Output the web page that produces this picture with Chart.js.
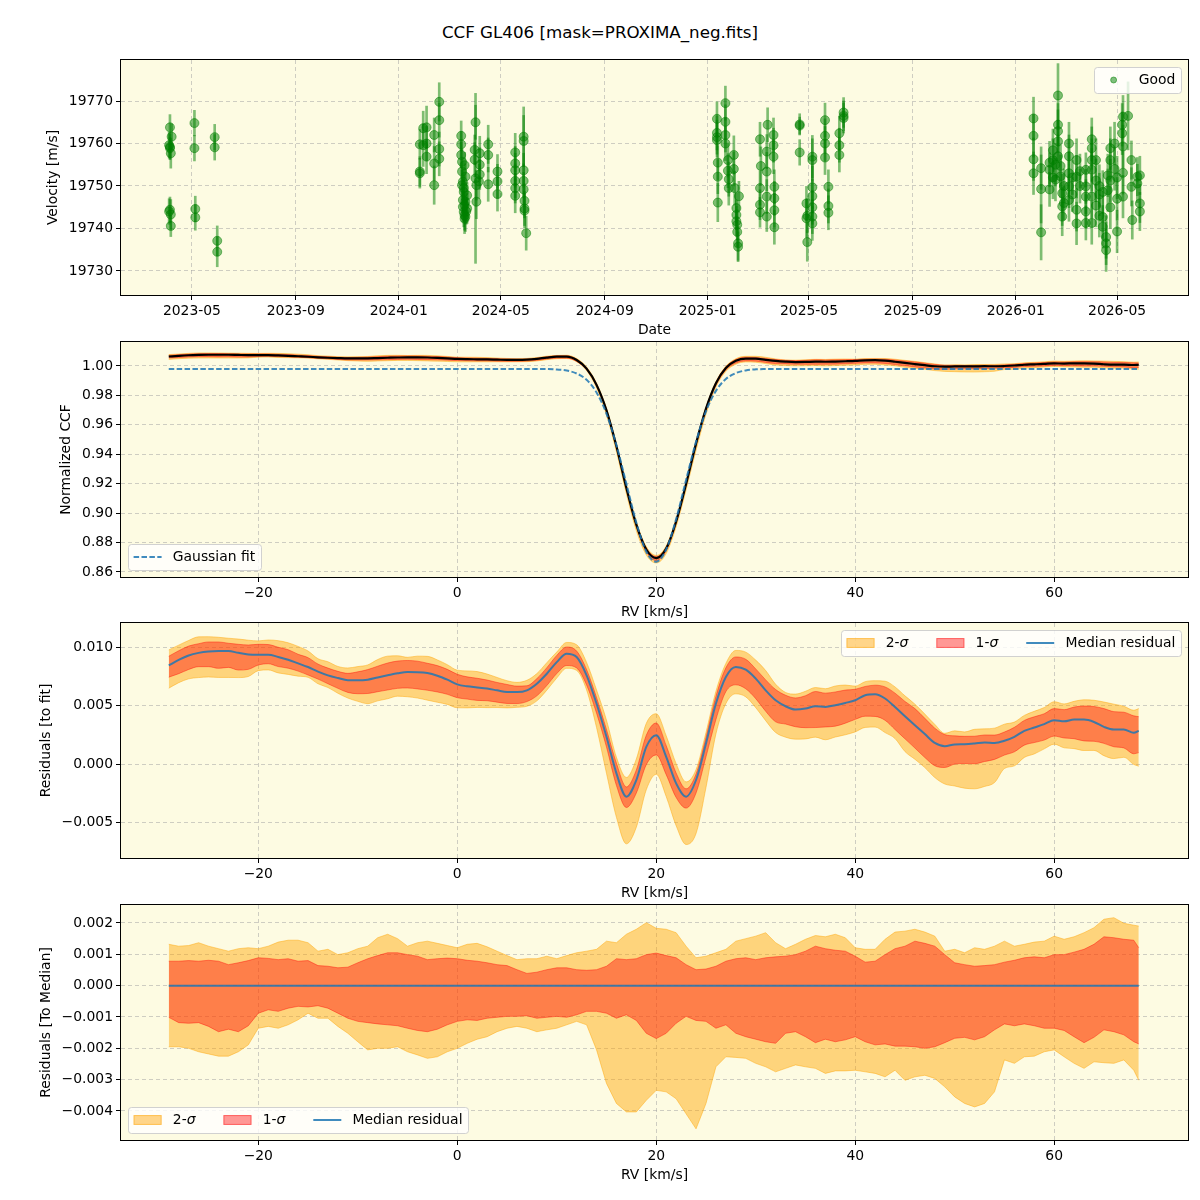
<!DOCTYPE html>
<html><head><meta charset="utf-8">
<script src="https://cdn.jsdelivr.net/npm/chart.js@4.4.1/dist/chart.umd.min.js"></script>
<style>
html,body{margin:0;padding:0;background:#fff;}
body{width:1200px;height:1200px;position:relative;overflow:hidden;}
canvas{position:absolute;left:0;}
#title{position:absolute;top:21px;left:0;width:1200px;text-align:center;font-family:"DejaVu Sans";font-size:16.7px;line-height:22px;color:#000;}
</style></head><body>
<div id="title">CCF GL406 [mask=PROXIMA_neg.fits]</div>
<canvas id="c1" width="1200" height="300" style="top:40px"></canvas>
<canvas id="c2" width="1200" height="300" style="top:322px"></canvas>
<canvas id="c3" width="1200" height="300" style="top:603px"></canvas>
<canvas id="c4" width="1200" height="300" style="top:885px"></canvas>
<script>
// ---------------- DATA ----------------
// Radial-velocity time series: [date, velocity m/s, error m/s]
const obs2023 = [
 ['2023-04-05',19763.8,3],['2023-04-07',19761.6,3],['2023-04-04',19759.6,3],['2023-04-05',19759.2,3],
 ['2023-04-05',19758.9,2.5],['2023-04-06',19757.7,3.5],['2023-04-04',19744.0,3],['2023-04-05',19744.4,3],
 ['2023-04-06',19743.3,3.5],['2023-04-06',19740.6,2.5],['2023-05-04',19764.8,3],['2023-05-04',19758.9,3],
 ['2023-05-05',19744.6,3],['2023-05-05',19742.6,3],['2023-05-28',19761.5,3],['2023-05-28',19759.1,3],
 ['2023-05-31',19737.1,3.5],['2023-05-31',19734.5,3.5]
];
const obs2024 = [
 ['2024-01-26',19753.4,3.5],['2024-01-26',19753.0,3.5],['2024-01-26',19759.8,3.5],['2024-01-30',19763.6,4],
 ['2024-01-30',19759.6,5],['2024-02-03',19763.8,5],['2024-02-03',19756.9,4],['2024-02-03',19760.0,4],
 ['2024-02-12',19762.0,4],['2024-02-12',19755.3,4],['2024-02-12',19750.2,4.5],['2024-02-18',19769.8,4.5],
 ['2024-02-18',19765.5,4],['2024-02-18',19758.7,4],['2024-02-18',19756.4,4],['2024-03-15',19761.8,3.5],
 ['2024-03-15',19759.8,3],['2024-03-15',19757.3,3],['2024-03-16',19755.7,3],['2024-03-16',19753.4,3],
 ['2024-03-16',19750.2,3.5],['2024-03-17',19746.7,3],['2024-03-17',19745.1,3.5],['2024-03-17',19751.0,3],
 ['2024-03-18',19743.9,3.5],['2024-03-18',19748.6,3],['2024-03-18',19749.5,3],['2024-03-19',19743.1,3.5],
 ['2024-03-19',19754.9,3],['2024-03-19',19742.3,3.5],['2024-03-19',19745.5,3],['2024-03-20',19752.2,3],
 ['2024-03-20',19746.3,3],['2024-03-20',19742.8,3.5],['2024-03-21',19744.0,3],['2024-03-22',19747.8,3],
 ['2024-03-22',19744.7,3.5],['2024-03-31',19758.5,3.5],['2024-03-31',19756.2,4],['2024-04-01',19765.0,4],
 ['2024-04-01',19751.8,20],['2024-04-02',19750.2,3.5],['2024-04-02',19746.3,4],['2024-04-05',19751.1,4],
 ['2024-04-06',19757.7,4],['2024-04-06',19755.0,4],['2024-04-06',19752.7,3.5],['2024-04-16',19759.8,4.5],
 ['2024-04-16',19757.3,4],['2024-04-16',19750.4,4],['2024-04-27',19753.4,4],['2024-04-27',19751.1,4],
 ['2024-04-27',19748.1,4],['2024-05-18',19757.9,4.5],['2024-05-18',19755.3,4],['2024-05-18',19753.7,4],
 ['2024-05-18',19751.2,4],['2024-05-18',19749.5,3.5],['2024-05-18',19747.7,4],['2024-05-28',19761.6,7],
 ['2024-05-28',19760.6,6],['2024-05-28',19753.7,4],['2024-05-28',19751.2,4],['2024-05-28',19749.2,4],
 ['2024-05-29',19746.5,4],['2024-05-29',19744.2,4],['2024-05-29',19744.7,4],['2024-05-31',19738.9,4]
];
const obs2025 = [
 ['2025-01-12',19765.8,4],['2025-01-12',19762.5,4],['2025-01-12',19760.8,4],['2025-01-12',19761.5,4],
 ['2025-01-13',19755.5,4],['2025-01-13',19752.2,4],['2025-01-13',19746.1,4.5],['2025-01-22',19769.5,4],
 ['2025-01-22',19765.1,4],['2025-01-22',19762.0,4],['2025-01-22',19760.0,4],['2025-01-25',19756.1,4],
 ['2025-01-25',19753.6,4],['2025-01-26',19751.6,4],['2025-01-26',19749.5,4],['2025-02-01',19757.3,4.5],
 ['2025-02-01',19754.0,4],['2025-02-02',19749.5,4],['2025-02-04',19744.8,3.5],['2025-02-04',19743.2,3.5],
 ['2025-02-04',19741.7,3.5],['2025-02-05',19740.9,3.5],['2025-02-05',19739.2,3.5],['2025-02-06',19736.5,4],
 ['2025-02-06',19735.7,3.5],['2025-02-07',19747.6,3.5],['2025-03-04',19761.0,4],['2025-03-04',19749.5,4],
 ['2025-03-04',19745.6,3.5],['2025-03-04',19743.8,3.5],['2025-03-05',19754.7,4.5],['2025-03-12',19758.1,4],
 ['2025-03-12',19753.4,4.5],['2025-03-12',19747.5,4],['2025-03-12',19742.8,3.5],['2025-03-13',19764.4,4],
 ['2025-03-20',19762.0,4],['2025-03-20',19759.6,4],['2025-03-20',19756.9,4],['2025-03-21',19749.8,4],
 ['2025-03-21',19747.1,4],['2025-03-21',19744.3,4],['2025-03-21',19740.3,4],['2025-04-20',19764.5,2.5],
 ['2025-04-20',19764.2,2],['2025-04-20',19757.9,3],['2025-04-28',19745.9,4],['2025-04-28',19742.4,4.5],
 ['2025-04-29',19736.8,4.5],['2025-04-29',19743.0,4],['2025-05-05',19756.9,5],['2025-05-05',19756.1,5],
 ['2025-05-05',19749.7,5],['2025-05-05',19747.6,4],['2025-05-05',19742.8,4],['2025-05-05',19741.2,4],
 ['2025-05-05',19745.0,4],['2025-05-20',19765.5,4],['2025-05-20',19761.8,4],['2025-05-20',19760.0,4],
 ['2025-05-20',19756.7,4],['2025-05-24',19749.8,4],['2025-05-24',19745.3,4],['2025-05-24',19743.7,4],
 ['2025-06-06',19762.4,4],['2025-06-06',19759.6,4],['2025-06-06',19757.3,4],['2025-06-11',19767.3,3.5],
 ['2025-06-11',19766.5,3.5],['2025-06-11',19766.0,3.5]
];
const obs2026 = [
 ['2026-01-22',19765.9,5],['2026-01-22',19761.8,5],['2026-01-22',19756.3,5],['2026-01-22',19753.0,5],
 ['2026-01-31',19754.2,5],['2026-01-31',19749.3,8],['2026-01-31',19739.1,6.5],['2026-02-10',19753.8,4],
 ['2026-02-10',19749.2,4],['2026-02-10',19755.5,5],['2026-02-14',19756.1,5],['2026-02-14',19758.4,5],
 ['2026-02-14',19752.0,5],['2026-02-17',19755.0,5],['2026-02-17',19751.5,5],['2026-02-20',19771.3,7.5],
 ['2026-02-20',19764.4,5],['2026-02-20',19762.9,5],['2026-02-20',19760.5,5],['2026-02-20',19757.0,5],
 ['2026-02-23',19754.7,5],['2026-02-23',19752.3,5],['2026-02-25',19748.3,4.5],['2026-02-25',19745.2,4.5],
 ['2026-02-25',19742.8,4.5],['2026-02-27',19750.0,4],['2026-02-27',19746.0,4],['2026-03-05',19760.0,5],
 ['2026-03-05',19757.0,5],['2026-03-05',19753.0,5],['2026-03-05',19749.9,5],['2026-03-05',19746.7,5],
 ['2026-03-09',19752.0,4],['2026-03-09',19748.0,4],['2026-03-14',19756.1,5],['2026-03-14',19752.2,5],
 ['2026-03-14',19744.4,5],['2026-03-14',19741.2,5],['2026-03-18',19750.0,4],['2026-03-18',19753.5,4],
 ['2026-03-25',19753.8,4],['2026-03-25',19749.9,4],['2026-03-25',19747.5,4],['2026-03-25',19744.0,4],
 ['2026-03-25',19741.3,4],['2026-04-01',19758.9,5],['2026-04-01',19761.0,5],['2026-04-01',19756.1,5],
 ['2026-04-01',19753.8,5],['2026-04-01',19747.5,5],['2026-04-01',19741.3,5],['2026-04-06',19756.1,5],
 ['2026-04-06',19751.3,5],['2026-04-06',19745.4,5],['2026-04-10',19750.0,5],['2026-04-10',19748.0,5],
 ['2026-04-10',19743.0,5],['2026-04-14',19740.4,5],['2026-04-14',19742.7,5],['2026-04-14',19748.6,5],
 ['2026-04-18',19736.5,5],['2026-04-18',19734.9,5],['2026-04-18',19738.0,5],['2026-04-20',19752.5,5],
 ['2026-04-20',19749.0,5],['2026-04-23',19758.9,5],['2026-04-23',19756.1,5],['2026-04-23',19751.3,5],
 ['2026-04-23',19745.0,5],['2026-04-28',19760.0,5],['2026-04-28',19754.0,5],['2026-05-01',19739.3,5],
 ['2026-05-01',19747.0,5],['2026-05-01',19752.0,5],['2026-05-07',19762.4,5],['2026-05-07',19764.4,5],
 ['2026-05-08',19766.3,5],['2026-05-08',19759.3,5],['2026-05-08',19753.1,5],['2026-05-08',19747.5,5],
 ['2026-05-14',19766.5,8],['2026-05-18',19749.8,4.5],['2026-05-18',19756.1,4.5],['2026-05-19',19742.0,4.5],
 ['2026-05-25',19752.2,4.5],['2026-05-25',19750.6,4.5],['2026-05-28',19745.9,4.5],['2026-05-28',19744.0,4.5],
 ['2026-05-28',19752.5,4.5]
];

// CCF grid (RV, km/s)
const rvGrid = [-29,-28,-27,-26,-25,-24,-23,-22,-21,-20,-19,-18,-17,-16,-15,-14,-13,-12,-11,-10,
 -9,-8,-7,-6,-5,-4,-3,-2,-1,0,1,2,3,4,5,6,7,8,9,10,11,12,13,14,15,16,17,18,19,20,
 21,22,23,24,25,26,27,28,29,30,31,32,33,34,35,36,37,38,39,40,41,42,43,44,45,46,47,48,49,50,
 51,52,53,54,55,56,57,58,59,60,61,62,63,64,65,66,67,68,68.5];
// Gaussian fit to the CCF
const gaussFit = [0.998,0.998,0.998,0.998,0.998,0.998,0.998,0.998,0.998,0.998,
 0.998,0.998,0.998,0.998,0.998,0.998,0.998,0.998,0.998,0.998,
 0.998,0.998,0.998,0.998,0.998,0.998,0.998,0.998,0.998,0.998,
 0.998,0.998,0.998,0.998,0.998,0.998,0.998,0.998,0.998,0.9976,
 0.9969,0.9949,0.9906,0.9820,0.9675,0.9462,0.9199,0.8935,0.8738,0.8670,
 0.8753,0.8960,0.9226,0.9486,0.9692,0.9831,0.9912,0.9952,0.9970,0.9977,
 0.9979,0.998,0.998,0.998,0.998,0.998,0.998,0.998,0.998,0.998,
 0.998,0.998,0.998,0.998,0.998,0.998,0.998,0.998,0.998,0.998,
 0.998,0.998,0.998,0.998,0.998,0.998,0.998,0.998,0.998,0.998,
 0.998,0.998,0.998,0.998,0.998,0.998,0.998,0.998,0.998];
// Median residual (CCF - fit)
const medResid = [0.00843,0.00890,0.00928,0.00950,0.00962,0.00965,0.00965,0.00950,0.00937,0.00934,
 0.00934,0.00915,0.00891,0.00860,0.00829,0.00790,0.00758,0.00735,0.00716,0.00715,
 0.00721,0.00740,0.00758,0.00775,0.00786,0.00785,0.00778,0.00755,0.00721,0.00681,
 0.00664,0.00655,0.00645,0.00630,0.00616,0.00615,0.00630,0.00687,0.00772,0.00871,
 0.00943,0.00914,0.00758,0.00517,0.00233,-0.00079,-0.00278,-0.00136,0.00147,0.00247,
 0.00062,-0.00165,-0.00278,-0.00136,0.00176,0.00517,0.00744,0.00829,0.00806,0.00730,
 0.00630,0.00545,0.00494,0.00466,0.00474,0.00494,0.00488,0.00503,0.00522,0.00545,
 0.00588,0.00596,0.00560,0.00488,0.00409,0.00332,0.00256,0.00181,0.00153,0.00168,
 0.00170,0.00176,0.00185,0.00181,0.00199,0.00233,0.00284,0.00312,0.00341,0.00375,
 0.00366,0.00380,0.00380,0.00360,0.00318,0.00295,0.00295,0.00267,0.00284];
// Band edges relative to the median residual
const sig1Up = [0.00078,0.00078,0.00080,0.00078,0.00081,0.00078,0.00067,0.00073,0.00080,0.00089,
 0.00087,0.00083,0.00086,0.00078,0.00080,0.00064,0.00062,0.00057,0.00059,0.00073,
 0.00086,0.00096,0.00105,0.00105,0.00099,0.00094,0.00083,0.00086,0.00088,0.00086,
 0.00081,0.00078,0.00073,0.00067,0.00064,0.00051,0.00039,0.00043,0.00051,0.00057,
 0.00057,0.00051,0.00049,0.00051,0.00062,0.00086,0.00083,0.00086,0.00099,0.00104,
 0.00096,0.00089,0.00067,0.00051,0.00053,0.00062,0.00078,0.00086,0.00089,0.00083,
 0.00089,0.00092,0.00094,0.00099,0.00110,0.00126,0.00118,0.00113,0.00110,0.00094,
 0.00075,0.00078,0.00099,0.00118,0.00126,0.00142,0.00135,0.00126,0.00099,0.00073,
 0.00067,0.00062,0.00064,0.00067,0.00075,0.00081,0.00089,0.00092,0.00089,0.00099,
 0.00099,0.00107,0.00116,0.00132,0.00156,0.00153,0.00148,0.00145,0.00121];
const sig1Lo = [-0.00101,-0.00118,-0.00120,-0.00118,-0.00130,-0.00147,-0.00139,-0.00147,-0.00128,-0.00088,
 -0.00077,-0.00082,-0.00072,-0.00066,-0.00068,-0.00064,-0.00072,-0.00088,-0.00104,-0.00114,
 -0.00118,-0.00122,-0.00125,-0.00128,-0.00136,-0.00143,-0.00147,-0.00139,-0.00125,-0.00114,
 -0.00109,-0.00111,-0.00104,-0.00101,-0.00098,-0.00098,-0.00096,-0.00104,-0.00101,-0.00098,
 -0.00101,-0.00093,-0.00082,-0.00082,-0.00088,-0.00104,-0.00093,-0.00111,-0.00152,-0.00169,
 -0.00152,-0.00120,-0.00098,-0.00111,-0.00114,-0.00136,-0.00125,-0.00152,-0.00163,-0.00171,
 -0.00179,-0.00184,-0.00152,-0.00147,-0.00163,-0.00182,-0.00171,-0.00179,-0.00173,-0.00163,
 -0.00179,-0.00189,-0.00186,-0.00193,-0.00193,-0.00195,-0.00200,-0.00195,-0.00182,-0.00168,
 -0.00165,-0.00173,-0.00163,-0.00141,-0.00122,-0.00128,-0.00122,-0.00128,-0.00136,-0.00136,
 -0.00143,-0.00163,-0.00182,-0.00165,-0.00141,-0.00147,-0.00157,-0.00179,-0.00186];
const sig2Up = [0.00132,0.00126,0.00128,0.00137,0.00126,0.00118,0.00110,0.00118,0.00121,0.00118,
 0.00126,0.00139,0.00145,0.00145,0.00137,0.00110,0.00116,0.00099,0.00105,0.00118,
 0.00126,0.00153,0.00164,0.00150,0.00126,0.00137,0.00142,0.00135,0.00128,0.00121,
 0.00132,0.00135,0.00124,0.00110,0.00096,0.00083,0.00086,0.00086,0.00094,0.00086,
 0.00096,0.00105,0.00110,0.00116,0.00142,0.00137,0.00164,0.00180,0.00201,0.00183,
 0.00180,0.00169,0.00126,0.00089,0.00094,0.00105,0.00116,0.00142,0.00150,0.00158,
 0.00169,0.00137,0.00118,0.00132,0.00148,0.00160,0.00156,0.00164,0.00153,0.00121,
 0.00116,0.00116,0.00148,0.00171,0.00174,0.00180,0.00171,0.00158,0.00110,0.00116,
 0.00105,0.00121,0.00116,0.00126,0.00142,0.00126,0.00132,0.00139,0.00142,0.00158,
 0.00148,0.00156,0.00169,0.00185,0.00212,0.00217,0.00199,0.00193,0.00190];
const sig2Lo = [-0.00195,-0.00195,-0.00200,-0.00211,-0.00218,-0.00225,-0.00225,-0.00211,-0.00189,-0.00136,
 -0.00130,-0.00136,-0.00125,-0.00109,-0.00088,-0.00104,-0.00104,-0.00130,-0.00152,-0.00179,
 -0.00205,-0.00200,-0.00200,-0.00195,-0.00211,-0.00221,-0.00232,-0.00227,-0.00211,-0.00200,
 -0.00184,-0.00171,-0.00163,-0.00147,-0.00136,-0.00130,-0.00136,-0.00147,-0.00141,-0.00136,
 -0.00125,-0.00114,-0.00125,-0.00205,-0.00312,-0.00376,-0.00403,-0.00403,-0.00366,-0.00334,
 -0.00339,-0.00361,-0.00409,-0.00457,-0.00376,-0.00259,-0.00227,-0.00229,-0.00232,-0.00248,
 -0.00259,-0.00275,-0.00264,-0.00253,-0.00259,-0.00264,-0.00280,-0.00272,-0.00272,-0.00270,
 -0.00275,-0.00280,-0.00291,-0.00270,-0.00302,-0.00291,-0.00286,-0.00296,-0.00323,-0.00355,
 -0.00376,-0.00387,-0.00376,-0.00339,-0.00237,-0.00248,-0.00227,-0.00225,-0.00211,-0.00205,
 -0.00227,-0.00248,-0.00264,-0.00243,-0.00246,-0.00248,-0.00237,-0.00270,-0.00302];
// Median residual relative to itself (bottom panel)
const medToMedianRv = [-29, 68.5];
const medToMedian = [0, 0];

// Axis ticks and ranges
const dateTicks = ['2023-05','2023-09','2024-01','2024-05','2024-09','2025-01','2025-05','2025-09','2026-01','2026-05'];
const dateRange = ['2023-02-06','2026-07-24'];
const velTicks = [19730,19740,19750,19760,19770];
const velRange = [19724.35,19779.65];
const rvTicks = [-20,0,20,40,60];
const rvRange = [-33.8,73.45];
const ccfTicks = [0.86,0.88,0.90,0.92,0.94,0.96,0.98,1.00];
const ccfRange = [0.8566,1.0163];
const res1Ticks = [-0.005,0,0.005,0.010];
const res1Range = [-0.00802,0.01205];
const res2Ticks = [-0.004,-0.003,-0.002,-0.001,0,0.001,0.002];
const res2Range = [-0.004926,0.002574];

// ---------------- STYLE ----------------
const FONT = 'DejaVu Sans';
const FS = 13.9;
const BG = 'rgb(253,251,226)';
const GRIDC = 'rgba(160,160,160,0.5)';
const C0 = 'rgba(31,119,180,0.85)';
const ORANGE = 'rgba(255,165,0,0.45)';
const RED = 'rgba(255,0,0,0.4)';
const GREEN = 'rgba(0,128,0,0.5)';

const toMs = s => Date.parse((s.length === 7 ? s + '-01' : s) + 'T00:00:00Z');
const minus = s => s.replace('-', '\u2212');
const fmt = d => v => minus(Number(v).toFixed(d));

function gridCfg(){
  return {color:GRIDC, lineWidth:1, drawTicks:true, tickLength:5, tickColor:'#000', tickWidth:1, tickBorderDash:[], offset:false};
}
function xAxis(range, ticks, cb, title){
  return {type:'linear', min:range[0], max:range[1], offset:false,
    afterBuildTicks: s => { s.ticks = ticks.map(v => ({value:v})); },
    afterFit: s => { s.height = 45; },
    ticks:{autoSkip:false, maxRotation:0, minRotation:0, padding:3, color:'#000', font:{family:FONT, size:FS}, callback:cb},
    grid:gridCfg(), border:{display:false, dash:[4,3]},
    title:{display:true, text:title, color:'#000', font:{family:FONT, size:FS}, padding:{top:0, bottom:1.6}}
  };
}
function yAxis(range, ticks, dec, title, tpad){
  return {type:'linear', min:range[0], max:range[1],
    afterBuildTicks: s => { s.ticks = ticks.map(v => ({value:v})); },
    afterFit: s => { s.width = 121; },
    ticks:{autoSkip:false, padding:3, color:'#000', font:{family:FONT, size:FS}, callback: dec === null ? (v => String(v)) : fmt(dec)},
    grid:gridCfg(), border:{display:false, dash:[4,3]},
    title:{display:true, text:title, color:'#000', font:{family:FONT, size:FS}, padding:{top:tpad, bottom:0}}
  };
}
function baseOptions(scales){
  return {responsive:false, animation:false, devicePixelRatio:1, events:[],
    layout:{padding:{left:0, right:12, top:20, bottom:0}},
    plugins:{legend:{display:false}, tooltip:{enabled:false}},
    scales};
}

// legend helpers
function segFont(s){ return (s.it ? 'italic ' : '') + FS + 'px "' + FONT + '"'; }
function segW(ctx, segs){ let w = 0; for (const s of segs){ ctx.font = segFont(s); w += ctx.measureText(s.t).width; } return w; }
function drawSegs(ctx, segs, x, y){ for (const s of segs){ ctx.font = segFont(s); ctx.fillText(s.t, x, y); x += ctx.measureText(s.t).width; } }
function rrect(ctx, x, y, w, h, r){
  ctx.beginPath(); ctx.moveTo(x + r, y); ctx.lineTo(x + w - r, y); ctx.arcTo(x + w, y, x + w, y + r, r);
  ctx.lineTo(x + w, y + h - r); ctx.arcTo(x + w, y + h, x + w - r, y + h, r); ctx.lineTo(x + r, y + h);
  ctx.arcTo(x, y + h, x, y + h - r, r); ctx.lineTo(x, y + r); ctx.arcTo(x, y, x + r, y, r); ctx.closePath();
}
function drawHandle(ctx, it, x, yc, hl){
  ctx.save();
  if (it.kind === 'marker'){
    ctx.beginPath(); ctx.arc(x + hl/2, yc, 3, 0, 2*Math.PI); ctx.fillStyle = GREEN; ctx.fill();
    ctx.strokeStyle = GREEN; ctx.lineWidth = 1; ctx.stroke();
  } else if (it.kind === 'dash' || it.kind === 'line'){
    if (it.kind === 'dash') ctx.setLineDash([5.5, 2.4]);
    ctx.strokeStyle = C0; ctx.lineWidth = 2; ctx.beginPath(); ctx.moveTo(x, yc); ctx.lineTo(x + hl, yc); ctx.stroke();
  } else if (it.kind === 'patch'){
    ctx.fillStyle = it.color; ctx.fillRect(x, yc - 4.9, hl, 9.8);
    ctx.strokeStyle = it.color; ctx.lineWidth = 1; ctx.strokeRect(x + 0.5, yc - 4.4, hl - 1, 8.8);
  }
  ctx.restore();
}
function drawLegend(ch, spec){
  const ctx = ch.ctx, a = ch.chartArea;
  const pad = 5.6, hl = 28, htp = 11.2, cs = 28, h = 26;
  ctx.save();
  ctx.textBaseline = 'middle';
  const ws = spec.items.map(it => segW(ctx, it.label));
  const w = 2*pad + ws.reduce((s, v) => s + v + hl + htp, 0) + cs*(spec.items.length - 1);
  const x0 = spec.loc === 'upper right' ? a.right - 7 - w : a.left + 7;
  const y0 = spec.loc === 'upper right' ? a.top + 7 : a.bottom - 7 - h;
  rrect(ctx, Math.round(x0) + 0.5, Math.round(y0) + 0.5, Math.round(w), h, 3);
  ctx.fillStyle = 'rgba(255,255,255,0.8)'; ctx.fill();
  ctx.strokeStyle = 'rgba(204,204,204,0.9)'; ctx.lineWidth = 1; ctx.stroke();
  let x = x0 + pad; const yc = y0 + h/2;
  spec.items.forEach((it, i) => {
    drawHandle(ctx, it, x, yc, hl); x += hl + htp;
    ctx.fillStyle = '#000'; drawSegs(ctx, it.label, x, yc + 0.5); x += ws[i] + cs;
  });
  ctx.restore();
}
function framePlugin(legend){
  return {id:'frame',
    beforeDraw(ch){ const {ctx, chartArea:a} = ch; ctx.save(); ctx.fillStyle = BG; ctx.fillRect(a.left, a.top, a.right - a.left, a.bottom - a.top); ctx.restore(); },
    afterDraw(ch){ const {ctx, chartArea:a} = ch; ctx.save(); ctx.strokeStyle = '#000'; ctx.lineWidth = 1;
      ctx.strokeRect(Math.round(a.left) - 0.5, Math.round(a.top) - 0.5, Math.round(a.right - a.left) + 1, Math.round(a.bottom - a.top) + 1);
      ctx.restore(); if (legend) drawLegend(ch, legend); }
  };
}
const sigmaLegend = [
  {kind:'patch', color:ORANGE, label:[{t:'2-'},{t:'\u03c3', it:true}]},
  {kind:'patch', color:RED, label:[{t:'1-'},{t:'\u03c3', it:true}]},
  {kind:'line', label:[{t:'Median residual'}]}
];

// ---------------- PANEL 1 : RV time series ----------------
const obsAll = [...obs2023, ...obs2024, ...obs2025, ...obs2026];
new Chart(document.getElementById('c1'), {
  type:'scatter',
  data:{datasets:[
    {type:'scatter', label:'Good', data: obsAll.map(o => ({x:toMs(o[0]), y:o[1]})),
     pointRadius:4.5, pointBackgroundColor:GREEN, pointBorderColor:GREEN, pointBorderWidth:1, order:0},
    {type:'bar', label:'err', data: obsAll.map(o => ({x:toMs(o[0]), y:[o[1] - o[2], o[1] + o[2]]})),
     backgroundColor:GREEN, borderWidth:0, barThickness:2, grouped:false, order:1}
  ]},
  options: baseOptions({
    x: xAxis(dateRange.map(toMs), dateTicks.map(toMs), (v, i) => dateTicks[i], 'Date'),
    y: yAxis(velRange, velTicks, null, 'Velocity [m/s]', 44.7)
  }),
  plugins:[framePlugin({loc:'upper right', items:[{kind:'marker', label:[{t:'Good'}]}]})]
});

// helpers for CCF panels
const pts = (xs, ys) => xs.map((x, i) => ({x, y:ys[i]}));
function bandSets(base, smooth, t1, t2){
  const mode = smooth ? {cubicInterpolationMode:'monotone'} : {tension:0};
  const add = off => base.map((b, i) => b + off[i]);
  return [
    Object.assign({data:pts(rvGrid, add(sig1Up)), borderColor:RED, backgroundColor:RED, borderWidth:1, pointRadius:0, fill:t1}, mode),
    Object.assign({data:pts(rvGrid, add(sig1Lo)), borderColor:RED, backgroundColor:RED, borderWidth:1, pointRadius:0, fill:false}, mode),
    Object.assign({data:pts(rvGrid, add(sig2Up)), borderColor:ORANGE, backgroundColor:ORANGE, borderWidth:1, pointRadius:0, fill:t2}, mode),
    Object.assign({data:pts(rvGrid, add(sig2Lo)), borderColor:ORANGE, backgroundColor:ORANGE, borderWidth:1, pointRadius:0, fill:false}, mode)
  ];
}
const rvFmt = v => minus(String(v));

// ---------------- PANEL 2 : CCF ----------------
const ccfMedian = gaussFit.map((f, i) => f + medResid[i]);
new Chart(document.getElementById('c2'), {
  type:'line',
  data:{datasets:[
    {data:pts(rvGrid, gaussFit), borderColor:C0, borderWidth:2, borderDash:[5.5,2.4], pointRadius:0, fill:false, cubicInterpolationMode:'monotone'},
    {data:pts(rvGrid, ccfMedian), borderColor:'#000', borderWidth:2.2, pointRadius:0, fill:false, cubicInterpolationMode:'monotone'},
    ...bandSets(ccfMedian, true, 3, 5)
  ]},
  options: baseOptions({
    x: xAxis(rvRange, rvTicks, rvFmt, 'RV [km/s]'),
    y: yAxis(ccfRange, ccfTicks, 2, 'Normalized CCF', 57.7)
  }),
  plugins:[framePlugin({loc:'lower left', items:[{kind:'dash', label:[{t:'Gaussian fit'}]}]})]
});

// ---------------- PANEL 3 : residuals to fit ----------------
new Chart(document.getElementById('c3'), {
  type:'line',
  data:{datasets:[
    {data:pts(rvGrid, medResid), borderColor:C0, borderWidth:2, pointRadius:0, fill:false, cubicInterpolationMode:'monotone'},
    ...bandSets(medResid, true, 2, 4)
  ]},
  options: baseOptions({
    x: xAxis(rvRange, rvTicks, rvFmt, 'RV [km/s]'),
    y: yAxis(res1Range, res1Ticks, 3, 'Residuals [to fit]', 37.7)
  }),
  plugins:[framePlugin({loc:'upper right', items:sigmaLegend})]
});

// ---------------- PANEL 4 : residuals to median ----------------
const zeroBase = rvGrid.map(() => 0);
new Chart(document.getElementById('c4'), {
  type:'line',
  data:{datasets:[
    {data:pts(medToMedianRv, medToMedian), borderColor:C0, borderWidth:2, pointRadius:0, fill:false},
    ...bandSets(zeroBase, false, 2, 4)
  ]},
  options: baseOptions({
    x: xAxis(rvRange, rvTicks, rvFmt, 'RV [km/s]'),
    y: yAxis(res2Range, res2Ticks, 3, 'Residuals [To Median]', 37.7)
  }),
  plugins:[framePlugin({loc:'lower left', items:sigmaLegend})]
});
</script>
</body></html>
